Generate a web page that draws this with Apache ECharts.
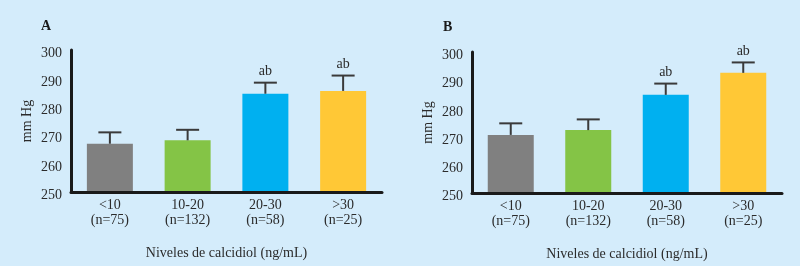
<!DOCTYPE html>
<html>
<head>
<meta charset="utf-8">
<script src="https://cdn.jsdelivr.net/npm/echarts@6/dist/echarts.min.js"></script>
<style>
  html, body { margin: 0; padding: 0; background: #ffffff; }
  #chart { width: 800px; height: 266px; background: #d4ecfb; }
</style>
</head>
<body>
<div id="chart"></div>
<script>
// calcidiol ranges and group sizes
const ranges = ['<10', '10-20', '20-30', '>30'];
const groupN = [75, 132, 58, 25];
const barColors = ['#808080', '#84c446', '#00b0f0', '#ffc836'];

// panel A
const meanA = [267.0, 268.2, 284.6, 285.6];
const upperA = [271.0, 271.9, 288.5, 291.0];
const sigA = ['', '', 'ab', 'ab'];

// panel B
const meanB = [270.6, 272.3, 284.8, 292.6];
const upperB = [274.7, 276.1, 288.8, 296.3];
const sigB = ['', '', 'ab', 'ab'];

const yTicks = { min: 250, max: 300, interval: 10 };

const FONT = '"Liberation Serif", "DejaVu Serif", serif';
const TEXT = '#2b2b2b';

const categories = ranges.map((r, i) => r + '\n(n=' + groupN[i] + ')');

const errorRenderer = (sig) => (params, api) => {
  const i = api.value(0);
  const base = api.coord([i, api.value(1)]);
  const top = api.coord([i, api.value(2)]);
  const half = 11.5;
  const lineStyle = { stroke: '#3a3a3a', lineWidth: 2 };
  return {
    type: 'group',
    children: [
      { type: 'line', shape: { x1: base[0], y1: base[1], x2: top[0], y2: top[1] }, style: lineStyle },
      { type: 'line', shape: { x1: top[0] - half, y1: top[1], x2: top[0] + half, y2: top[1] }, style: lineStyle },
      {
        type: 'text',
        x: top[0],
        y: top[1] - 11,
        style: {
          text: sig[params.dataIndex],
          align: 'center',
          verticalAlign: 'middle',
          font: '14px ' + FONT,
          fill: TEXT
        }
      }
    ]
  };
};

const xAxisFor = (gridIndex) => ({
  type: 'category',
  gridIndex,
  data: categories,
  z: 5,
  axisLine: { lineStyle: { color: '#1a1a1a', width: 3 } },
  axisTick: { show: false },
  axisLabel: { color: TEXT, fontFamily: FONT, fontSize: 14, lineHeight: 15, margin: 6 },
  name: 'Niveles de calcidiol (ng/mL)',
  nameLocation: 'middle',
  nameGap: 54,
  nameTextStyle: { color: TEXT, fontFamily: FONT, fontSize: 14 }
});

const yAxisFor = (gridIndex) => ({
  type: 'value',
  gridIndex,
  min: yTicks.min,
  max: yTicks.max,
  interval: yTicks.interval,
  z: 5,
  axisLine: { show: true, lineStyle: { color: '#1a1a1a', width: 3 } },
  axisTick: { show: false },
  splitLine: { show: false },
  // labels sit a little below their tick in the original
  axisLabel: { color: TEXT, fontFamily: FONT, fontSize: 14, margin: 9, verticalAlign: 'top', lineHeight: 7 },
  name: 'mm Hg',
  nameLocation: 'middle',
  nameGap: 37,
  nameTextStyle: { color: TEXT, fontFamily: FONT, fontSize: 14 }
});

const barSeries = (idx, values) => ({
  type: 'bar',
  xAxisIndex: idx,
  yAxisIndex: idx,
  barWidth: 46,
  data: values.map((v, i) => ({ value: v, itemStyle: { color: barColors[i] } })),
  animation: false
});

const errSeries = (idx, means, uppers, sig) => ({
  type: 'custom',
  xAxisIndex: idx,
  yAxisIndex: idx,
  renderItem: errorRenderer(sig),
  data: means.map((m, i) => [i, m, uppers[i]]),
  z: 4,
  animation: false
});

const chart = echarts.init(document.getElementById('chart'));
chart.setOption({
  backgroundColor: '#d4ecfb',
  title: [
    { text: 'A', left: 36, top: 14, textStyle: { fontFamily: FONT, fontSize: 14, fontWeight: 'bold', color: '#1a1a1a' } },
    { text: 'B', left: 438, top: 15, textStyle: { fontFamily: FONT, fontSize: 14, fontWeight: 'bold', color: '#1a1a1a' } }
  ],
  grid: [
    { left: 71, top: 50, width: 311, height: 142 },
    { left: 472, top: 52, width: 310, height: 141 }
  ],
  xAxis: [xAxisFor(0), xAxisFor(1)],
  yAxis: [yAxisFor(0), yAxisFor(1)],
  series: [
    barSeries(0, meanA),
    errSeries(0, meanA, upperA, sigA),
    barSeries(1, meanB),
    errSeries(1, meanB, upperB, sigB)
  ]
});
</script>
</body>
</html>
